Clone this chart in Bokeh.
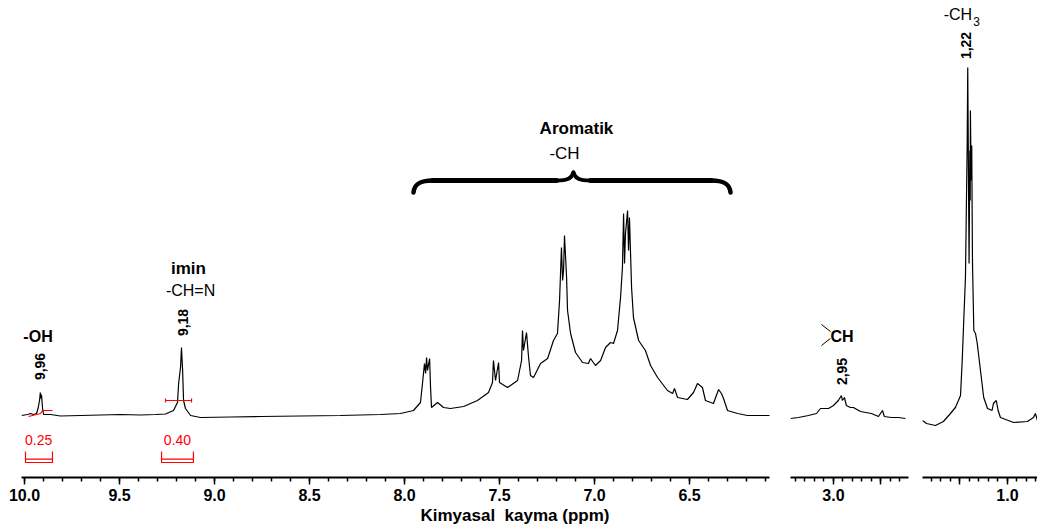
import math
from bokeh.plotting import figure
from bokeh.layouts import row
from bokeh.models import Range1d, FixedTicker, Label, PrintfTickFormatter, Title
from bokeh.embed import file_html
from bokeh.resources import INLINE

# ---------------- data ----------------
main_ppm = [10.016, 9.984, 9.968, 9.953, 9.937, 9.929, 9.921, 9.917, 9.913, 9.911, 9.905, 9.900,
            9.863, 9.811, 9.705, 9.600, 9.495, 9.389, 9.311, 9.258, 9.216, 9.195, 9.189, 9.179,
            9.174, 9.168, 9.163, 9.153, 9.126, 9.074, 8.916, 8.758, 8.547, 8.337, 8.126, 8.021,
            7.953, 7.916, 7.905, 7.895, 7.889, 7.884, 7.879, 7.868, 7.863, 7.858, 7.826, 7.795,
            7.758, 7.689, 7.616, 7.558, 7.537, 7.532, 7.521, 7.505, 7.500, 7.458, 7.405, 7.384,
            7.379, 7.374, 7.358, 7.347, 7.337, 7.321, 7.284, 7.247, 7.216, 7.195, 7.184, 7.174,
            7.168, 7.163, 7.158, 7.147, 7.142, 7.126, 7.100, 7.063, 7.032, 7.021, 6.995, 6.968,
            6.942, 6.916, 6.900, 6.879, 6.863, 6.853, 6.847, 6.842, 6.837, 6.826, 6.821, 6.816,
            6.805, 6.795, 6.768, 6.732, 6.705, 6.668, 6.616, 6.589, 6.579, 6.563, 6.511, 6.479,
            6.458, 6.432, 6.416, 6.374, 6.347, 6.332, 6.321, 6.300, 6.247, 6.195, 6.074]
main_int = [0.0, 0.5, 1.0, 0.5, 1.0, 3.5, 7.5, 11.5, 8.5, 10.5, 3.5, 0.5,
            0.5, -0.25, 0.0, 0.25, 0.5, 0.25, 0.5, 0.75, 2.5, 6.5, 16.0, 24.0,
            34.0, 22.5, 7.5, 3.5, 0.0, -1.0, -0.75, -0.5, -0.25, 0.0, 0.5, 1.0,
            2.5, 6.5, 16.5, 26.0, 21.0, 29.0, 22.5, 28.5, 14.0, 4.0, 6.5, 4.0,
            3.5, 4.5, 7.5, 11.5, 16.5, 27.5, 17.5, 26.5, 16.5, 14.0, 17.5, 27.5,
            42.5, 32.5, 41.5, 29.0, 20.0, 19.0, 26.0, 28.5, 37.5, 41.0, 57.5, 84.0,
            67.5, 72.5, 90.0, 69.0, 52.5, 41.0, 31.5, 26.5, 26.0, 28.5, 25.0, 27.5,
            34.0, 36.5, 36.0, 42.5, 59.0, 74.0, 101.0, 76.0, 91.0, 102.5, 82.5, 99.0,
            64.0, 49.0, 37.5, 32.5, 25.0, 19.0, 12.5, 11.0, 13.5, 9.0, 8.0, 11.5,
            16.0, 14.0, 7.5, 6.0, 13.0, 11.0, 8.5, 2.5, 1.0, 0.0, 0.0]

ch_ppm = [3.226, 3.184, 3.132, 3.089, 3.068, 3.026, 3.000, 2.974, 2.958, 2.953, 2.942,
          2.932, 2.911, 2.895, 2.858, 2.800, 2.763, 2.742, 2.732, 2.695, 2.658, 2.621]
ch_int = [-1.5, -1.0, 0.0, 1.0, 3.5, 3.5, 5.0, 7.5, 10.0, 7.5, 9.0,
          5.0, 4.0, 4.0, 2.0, 1.0, -0.5, 2.5, -0.5, -1.0, -1.0, -1.5]

me_ppm = [1.447, 1.426, 1.379, 1.337, 1.300, 1.274, 1.258, 1.247, 1.238, 1.230, 1.221,
          1.212, 1.209, 1.202, 1.198, 1.196, 1.195, 1.191, 1.188, 1.184, 1.177, 1.168,
          1.159, 1.142, 1.125, 1.105, 1.081, 1.074, 1.059, 1.049, 1.037, 0.968, 0.895,
          0.863, 0.853, 0.842]
me_int = [-2.5, -4.0, -5.0, -3.0, 1.0, 4.0, 7.5, 10.0, 27.5, 47.5, 69.0,
          135.0, 174.0, 76.0, 132.5, 107.5, 152.5, 117.5, 135.0, 76.0, 42.5, 41.0,
          36.0, 22.5, 9.0, 3.5, 2.5, 6.0, 7.5, 2.5, -1.0, -3.5, -3.0,
          -1.0, 1.0, -2.5]

main_major = [10.0, 9.5, 9.0, 8.5, 8.0, 7.5, 7.0, 6.5]
ch_major = [3.0]
me_major = [1.0]
integrals = ["0.25", "0.40"]
integral_ppm = [9.926, 9.195]
peak_labels = ["9,96", "9,18", "2,95", "1,22"]
x_title = "Kimyasal\u00a0 kayma (ppm)"

Y_MIN, Y_MAX = -31.0, 207.5
FONT = "Liberation Sans"


def make_fig(xr, fw, ml, mr):
    p = figure(frame_width=fw, frame_height=477, x_range=Range1d(*xr),
               y_range=Range1d(Y_MIN, Y_MAX), output_backend="svg",
               toolbar_location=None, y_axis_location=None,
               min_border_left=ml, min_border_right=mr, min_border_top=0,
               min_border_bottom=0)
    p.xgrid.visible = False
    p.ygrid.visible = False
    p.outline_line_color = None
    p.background_fill_color = "white"
    p.border_fill_color = "white"
    ax = p.xaxis[0]
    ax.axis_line_width = 2
    ax.axis_line_color = "black"
    ax.major_tick_line_width = 1.5
    ax.minor_tick_line_width = 1.5
    ax.major_tick_in = 0
    ax.major_tick_out = 7
    ax.minor_tick_in = 0
    ax.minor_tick_out = 4
    ax.major_label_text_font = FONT
    ax.major_label_text_font_style = "bold"
    ax.major_label_text_font_size = "16px"
    ax.major_label_text_color = "black"
    ax.major_label_standoff = 4
    ax.formatter = PrintfTickFormatter(format="%.1f")
    return p


def lab(p, x, y, text, size="16px", style="normal", color="black", angle=0.0):
    p.add_layout(Label(x=x, y=y, text=text, text_font=FONT, text_font_size=size,
                       text_font_style=style, text_color=color, angle=angle,
                       text_align="center", text_baseline="middle"))


# ---------------- main panel ----------------
p1 = make_fig((10.016, 6.079), 748, 21, 21)
p1.xaxis[0].ticker = FixedTicker(ticks=main_major,
                                 minor_ticks=[round(10.0 - 0.1 * i, 2) for i in range(40)])
p1.line(main_ppm, main_int, line_color="black", line_width=1.2)
p1.add_layout(Title(text=x_title, align="left", offset=399, standoff=0,
                    text_font=FONT, text_font_size="17px", text_font_style="bold",
                    text_color="black"), "below")

# integration marks (red)
p1.line([9.979, 9.916, 9.905, 9.853], [-0.5, 1.0, 2.5, 2.5], line_color="red", line_width=1.2)
p1.line([9.258, 9.121], [7.5, 7.5], line_color="red", line_width=1.2)
p1.segment([9.258, 9.121], [6.5, 6.5], [9.258, 9.121], [8.5, 8.5], line_color="red", line_width=1.2)
for (x0, x1) in [(9.995, 9.853), (9.279, 9.111)]:
    p1.line([x0, x0, x1, x1], [-18.0, -23.5, -23.5, -18.0], line_color="red", line_width=1.2)
    p1.line([x0, x1], [-21.8, -21.8], line_color="red", line_width=1.2)
for t, xp in zip(integrals, integral_ppm):
    lab(p1, xp, -12.0, t, size="14px", color="red")

lab(p1, 9.929, 39.5, "-OH", size="16px", style="bold")
lab(p1, 9.916, 24.5, peak_labels[0], size="14px", style="bold", angle=math.pi / 2)
lab(p1, 9.137, 73.5, "imin", size="17px", style="bold")
lab(p1, 9.126, 62.5, "-CH=N", size="16px")
lab(p1, 9.168, 46.5, peak_labels[1], size="14px", style="bold", angle=math.pi / 2)
lab(p1, 7.095, 143.5, "Aromatik", size="17px", style="bold")
lab(p1, 7.158, 131.0, "-CH", size="17px")

# curly brace over the aromatic region
bl, br, bt = 7.953, 6.284, 7.111
yb, ye, yt = 117.5, 111.5, 121.5
brace = dict(line_color="black", line_cap="round", line_join="round")
p1.bezier(x0=bl, y0=ye, x1=bl - 0.10, y1=yb, cx0=bl - 0.005, cy0=yb - 1.5,
          cx1=bl - 0.04, cy1=yb, line_width=4.5, **brace)
p1.segment(x0=bl - 0.10, y0=yb, x1=bt + 0.09, y1=yb, line_width=5, **brace)
p1.bezier(x0=bt + 0.09, y0=yb, x1=bt, y1=yt, cx0=bt + 0.03, cy0=yb,
          cx1=bt + 0.01, cy1=yb + 1.0, line_width=4, **brace)
p1.bezier(x0=bt, y0=yt, x1=bt - 0.09, y1=yb, cx0=bt - 0.01, cy0=yb + 1.0,
          cx1=bt - 0.03, cy1=yb, line_width=4, **brace)
p1.segment(x0=bt - 0.09, y0=yb, x1=br + 0.10, y1=yb, line_width=5, **brace)
p1.bezier(x0=br + 0.10, y0=yb, x1=br, y1=ye, cx0=br + 0.04, cy0=yb,
          cx1=br + 0.005, cy1=yb - 1.5, line_width=4.5, **brace)

# ---------------- CH panel ----------------
p2 = make_fig((3.226, 2.605), 118, 0, 14)
p2.xaxis[0].ticker = FixedTicker(ticks=ch_major + [2.75],
                                 minor_ticks=[round(3.2 - 0.05 * i, 2) for i in range(12)])
p2.xaxis[0].major_label_overrides = {2.75: ""}
p2.line(ch_ppm, ch_int, line_color="black", line_width=1.2)
lab(p2, 2.955, 39.5, "CH", size="16px", style="bold")
p2.segment([3.063, 3.063], [45.5, 35.0], [3.016, 3.016], [42.0, 38.5], line_color="black", line_width=1)
lab(p2, 2.953, 22.0, peak_labels[2], size="14px", style="bold", angle=math.pi / 2)

# ---------------- CH3 panel ----------------
p3 = make_fig((1.447, 0.842), 115, 0, 0)
p3.xaxis[0].ticker = FixedTicker(ticks=me_major + [1.25],
                                 minor_ticks=[round(1.45 - 0.05 * i, 2) for i in range(13)])
p3.xaxis[0].major_label_overrides = {1.25: ""}
p3.line(me_ppm, me_int, line_color="black", line_width=1.2)
lab(p3, 1.261, 200.5, "-CH", size="16px")
lab(p3, 1.163, 197.0, "3", size="12px")
lab(p3, 1.216, 185.0, peak_labels[3], size="14px", style="bold", angle=math.pi / 2)

layout = row(p1, p2, p3)
open("out.html", "w").write(file_html(layout, INLINE))
